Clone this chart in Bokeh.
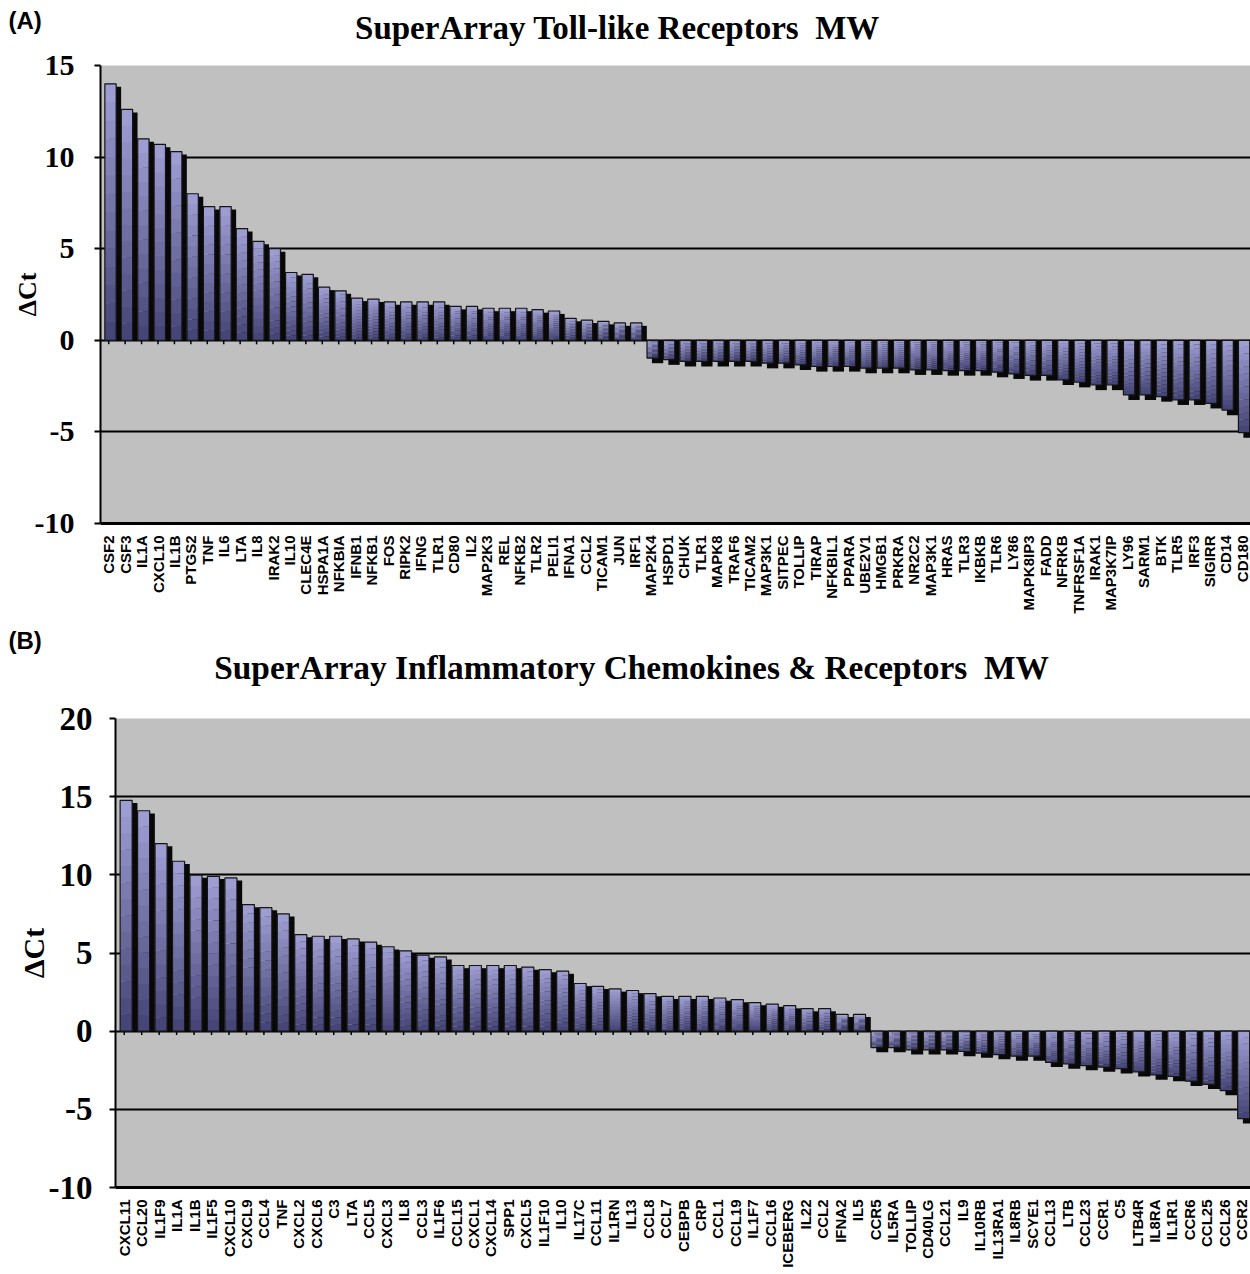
import math
from bokeh.plotting import figure
from bokeh.layouts import column
from bokeh.models import FactorRange, Range1d, FixedTicker, ColumnDataSource
from bokeh.transform import dodge
from bokeh.core.properties import value
from bokeh.embed import file_html
from bokeh.resources import INLINE

# ---------------- data: panel A ----------------
genes_a = ["CSF2", "CSF3", "IL1A", "CXCL10", "IL1B", "PTGS2", "TNF", "IL6", "LTA", "IL8",
           "IRAK2", "IL10", "CLEC4E", "HSPA1A", "NFKBIA", "IFNB1", "NFKB1", "FOS", "RIPK2", "IFNG",
           "TLR1", "CD80", "IL2", "MAP2K3", "REL", "NFKB2", "TLR2", "PELI1", "IFNA1", "CCL2",
           "TICAM1", "JUN", "IRF1", "MAP2K4", "HSPD1", "CHUK", "TLR1", "MAPK8", "TRAF6", "TICAM2",
           "MAP3K1", "SITPEC", "TOLLIP", "TIRAP", "NFKBIL1", "PPARA", "UBE2V1", "HMGB1", "PRKRA", "NR2C2",
           "MAP3K1", "HRAS", "TLR3", "IKBKB", "TLR6", "LY86", "MAPK8IP3", "FADD", "NFRKB", "TNFRSF1A",
           "IRAK1", "MAP3K7IP", "LY96", "SARM1", "BTK", "TLR5", "IRF3", "SIGIRR", "CD14", "CD180"]
dct_a = [14.0, 12.6, 11.0, 10.7, 10.3, 8.0, 7.3, 7.3, 6.1, 5.4,
         5.0, 3.7, 3.6, 2.9, 2.7, 2.3, 2.25, 2.1, 2.1, 2.1,
         2.1, 1.85, 1.85, 1.75, 1.75, 1.75, 1.67, 1.6, 1.2, 1.1,
         1.03, 0.95, 0.95, -0.97, -1.06, -1.15, -1.15, -1.15, -1.15, -1.15,
         -1.25, -1.25, -1.34, -1.43, -1.43, -1.43, -1.52, -1.52, -1.52, -1.61,
         -1.61, -1.65, -1.65, -1.65, -1.74, -1.83, -1.92, -1.92, -2.16, -2.29,
         -2.44, -2.44, -2.98, -2.98, -3.07, -3.25, -3.25, -3.44, -3.81, -5.04]
yticks_a = [-10, -5, 0, 5, 10, 15]
title_a = "SuperArray Toll-like Receptors \u00a0MW"

# ---------------- data: panel B ----------------
genes_b = ["CXCL11", "CCL20", "IL1F9", "IL1A", "IL1B", "IL1F5", "CXCL10", "CXCL9", "CCL4", "TNF",
           "CXCL2", "CXCL6", "C3", "LTA", "CCL5", "CXCL3", "IL8", "CCL3", "IL1F6", "CCL15",
           "CXCL1", "CXCL14", "SPP1", "CXCL5", "IL1F10", "IL10", "IL17C", "CCL11", "IL1RN", "IL13",
           "CCL8", "CCL7", "CEBPB", "CRP", "CCL1", "CCL19", "IL1F7", "CCL16", "ICEBERG", "IL22",
           "CCL2", "IFNA2", "IL5", "CCR5", "IL5RA", "TOLLIP", "CD40LG", "CCL21", "IL9", "IL10RB",
           "IL13RA1", "IL8RB", "SCYE1", "CCL13", "LTB", "CCL23", "CCR1", "C5", "LTB4R", "IL8RA",
           "IL1R1", "CCR6", "CCL25", "CCL26", "CCR2"]
dct_b = [14.76, 14.1, 12.0, 10.87, 9.98, 9.9, 9.8, 8.1, 7.9, 7.5,
         6.17, 6.07, 6.07, 5.9, 5.7, 5.4, 5.14, 4.87, 4.75, 4.2,
         4.2, 4.2, 4.2, 4.1, 3.94, 3.84, 3.05, 2.87, 2.7, 2.6,
         2.4, 2.23, 2.23, 2.23, 2.12, 2.02, 1.83, 1.73, 1.63, 1.44,
         1.44, 1.07, 1.07, -1.05, -1.05, -1.2, -1.2, -1.2, -1.3, -1.4,
         -1.5, -1.6, -1.6, -2.0, -2.1, -2.2, -2.3, -2.4, -2.6, -2.8,
         -2.9, -3.2, -3.4, -3.8, -5.6]
yticks_b = [-10, -5, 0, 5, 10, 15, 20]
title_b = "SuperArray Inflammatory Chemokines & Receptors \u00a0MW"

SERIF = "Liberation Serif"
SANS = "Liberation Sans"
LIGHT = (160, 160, 214)
DARK = (66, 66, 116)
W = 1250


def uniq(names):
    seen = {}
    out = []
    for n in names:
        if n in seen:
            seen[n] += 1
            out.append(n + "\u200b" * seen[n])
        else:
            seen[n] = 0
            out.append(n)
    return out


def mix(t):
    c = [int(round(DARK[i] + (LIGHT[i] - DARK[i]) * t)) for i in range(3)]
    return "#%02x%02x%02x" % tuple(c)


def header(letter, title, height, letter_y, title_x, title_y, title_fs):
    h = figure(width=W, height=height, x_range=Range1d(0, W), y_range=Range1d(0, height),
               output_backend="svg", toolbar_location=None, title=None,
               x_axis_location=None, y_axis_location=None, frame_align=False,
               min_border_left=0, min_border_right=0, min_border_top=0, min_border_bottom=0)
    h.grid.visible = False
    h.outline_line_color = None
    h.background_fill_color = "white"
    h.border_fill_color = "white"
    h.text(x=[8], y=[letter_y], text=[letter], text_font=value(SANS), text_font_style="bold",
           text_font_size="24px", text_align="left", text_baseline="middle", text_color="black")
    h.text(x=[title_x], y=[title_y], text=[title], text_font=value(SERIF), text_font_style="bold",
           text_font_size="%.1fpx" % title_fs, text_align="center", text_baseline="middle",
           text_color="black")
    return h


def panel(genes, vals, yticks, height, left, top, bottom,
          tick_fs, ylab_fs, xlab_fs, drop_pos, drop_neg, tick_len, tick_standoff, lab_standoff):
    factors = uniq(genes)
    p = figure(x_range=FactorRange(factors=factors, range_padding=0),
               y_range=Range1d(yticks[0], yticks[-1]), title=None, frame_align=False,
               width=W, height=height, output_backend="svg", toolbar_location=None,
               min_border_left=left, min_border_right=0, min_border_top=top,
               min_border_bottom=bottom)
    p.background_fill_color = "#c0c0c0"
    p.border_fill_color = "white"
    p.outline_line_color = None

    # small category ticks hanging under the zero line
    p.segment(x0=dodge("x", 0.0, range=p.x_range), x1=dodge("x", 0.0, range=p.x_range),
              y0="y0", y1="y1",
              source=ColumnDataSource(dict(x=factors, y0=[0] * len(factors),
                                           y1=[-tick_len] * len(factors))),
              line_color="black", line_width=1.5)

    # shadow (3-D side)
    sh_top = [v - drop_pos if v > 0 else 0 for v in vals]
    sh_bot = [0 if v > 0 else v - drop_neg for v in vals]
    p.vbar(x=dodge("x", 0.41, range=p.x_range), width=0.69, top="top", bottom="bottom",
           source=ColumnDataSource(dict(x=factors, top=sh_top, bottom=sh_bot)),
           fill_color="#080808", line_color=None)

    # gradient face built from slices of each bar
    N = 14
    xs, bots, tops, cols = [], [], [], []
    for f, v in zip(factors, vals):
        lo, hi = min(0, v), max(0, v)
        hh = (hi - lo) / N
        for k in range(N):
            xs.append(f)
            bots.append(lo + k * hh)
            tops.append(lo + (k + 1) * hh + hh * 0.02)
            cols.append(mix((k + 0.5) / N))
    p.vbar(x=dodge("x", 0.11, range=p.x_range), width=0.69, top="top", bottom="bottom",
           source=ColumnDataSource(dict(x=xs, top=tops, bottom=bots, c=cols)),
           fill_color="c", line_color=None)
    p.vbar(x=dodge("x", 0.11, range=p.x_range), width=0.69,
           top="top", bottom="bottom",
           source=ColumnDataSource(dict(x=factors, top=[max(0, v) for v in vals],
                                        bottom=[min(0, v) for v in vals])),
           fill_color=None, line_color="#151515", line_width=1.2)

    # grid
    p.xgrid.visible = False
    p.ygrid.ticker = FixedTicker(ticks=yticks)
    p.ygrid.grid_line_color = "black"
    p.ygrid.grid_line_width = 2

    # y axis
    p.yaxis.ticker = FixedTicker(ticks=yticks)
    p.yaxis.major_label_overrides = {t: str(t) for t in yticks}
    p.yaxis.minor_tick_line_color = None
    p.yaxis.major_tick_in = 0
    p.yaxis.major_tick_out = 6
    p.yaxis.major_tick_line_width = 2
    p.yaxis.axis_line_width = 2
    p.yaxis.axis_line_color = "black"
    p.yaxis.major_label_text_font = SERIF
    p.yaxis.major_label_text_font_style = "bold"
    p.yaxis.major_label_text_font_size = "%dpx" % tick_fs
    p.yaxis.major_label_text_color = "black"
    p.yaxis.major_label_standoff = tick_standoff
    p.yaxis.axis_label = "\u0394Ct"
    p.yaxis.axis_label_text_font = SERIF
    p.yaxis.axis_label_text_font_style = "bold"
    p.yaxis.axis_label_text_font_size = "%dpx" % ylab_fs
    p.yaxis.axis_label_text_color = "black"
    p.yaxis.axis_label_standoff = lab_standoff

    # x axis
    p.xaxis.major_label_orientation = math.pi / 2
    p.xaxis.major_tick_line_color = None
    p.xaxis.minor_tick_line_color = None
    p.xaxis.axis_line_width = 3
    p.xaxis.axis_line_color = "black"
    p.xaxis.major_label_text_font = SANS
    p.xaxis.major_label_text_font_style = "bold"
    p.xaxis.major_label_text_font_size = "%dpx" % xlab_fs
    p.xaxis.major_label_text_color = "black"
    p.xaxis.major_label_standoff = 6
    return p


ha = header("(A)", title_a, 47, 27, 617, 20, 33)
pa = panel(genes_a, dct_a, yticks_a, 581, 100, 18, 105, 30, 26, 15, 0.16, 0.28, 0.22, 20, -10)
hb = header("(B)", title_b, 72, 60, 631, 33, 33.4)
pb = panel(genes_b, dct_b, yticks_b, 570, 115, 18, 72, 33, 30, 15, 0.17, 0.30, 0.25, 17, -4)

layout = column(ha, pa, hb, pb, spacing=0)
open("out.html", "w").write(file_html(layout, INLINE))
